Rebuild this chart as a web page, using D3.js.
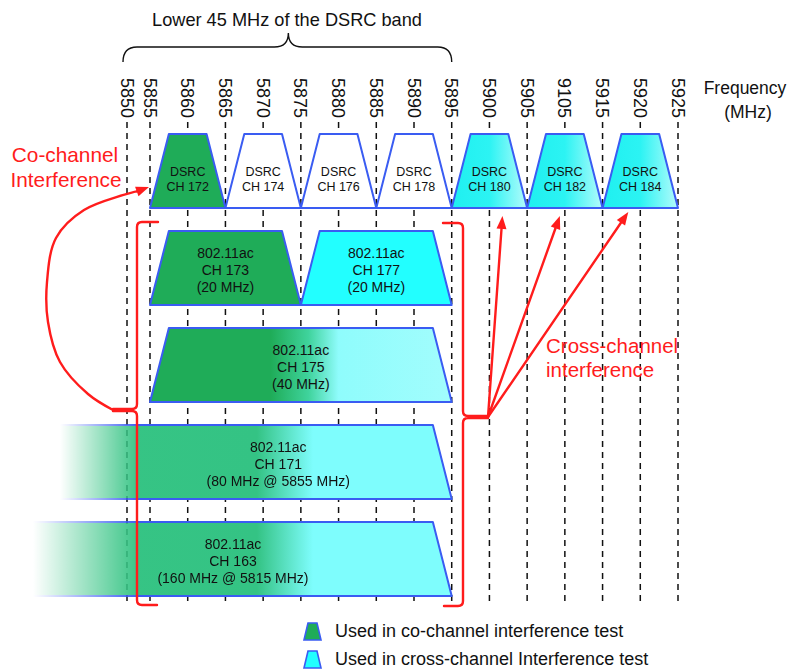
<!DOCTYPE html>
<html><head><meta charset="utf-8">
<script src="https://cdn.jsdelivr.net/npm/d3@7"></script>
<style>
html,body{margin:0;padding:0;background:#fff;}
svg{display:block;font-family:"Liberation Sans",Arial,Helvetica,sans-serif;}
</style></head>
<body><svg id="chart" width="790" height="670"></svg>
<script>
// ---------- data ----------
const tickValues = [5850,5855,5860,5865,5870,5875,5880,5885,5890,5895,5900,5905,5910,5915,5920,5925];
const tickLabels = ["5850","5855","5860","5865","5870","5875","5880","5885","5890","5895","5900","5905","9105","5915","5920","5925"];

const dsrcNames   = ["CH 172","CH 174","CH 176","CH 178","CH 180","CH 182","CH 184"];
const dsrcCenters = [5860,5870,5880,5890,5900,5910,5920];
const dsrcUse     = ["co","none","none","none","cross","cross","cross"];
const dsrcWidth   = 10;

const acNames   = ["CH 173","CH 177","CH 175","CH 171","CH 163"];
const acWidths  = ["(20 MHz)","(20 MHz)","(40 MHz)","(80 MHz @ 5855 MHz)","(160 MHz @ 5815 MHz)"];
const acLow     = [5855,5875,5855,5815,5735];
const acHigh    = [5875,5895,5895,5895,5895];
const acRow     = ["20","20","40","80","160"];
const acLabelAt = [5865,5885,5875,5872,5866];
const acFill    = ["co","cross","mix40","mix80","mix160"];

const rows = ["DSRC","20","40","80","160"];
const crossTargets = [5900,5910,5920];

const legendLabels = ["Used in co-channel interference test","Used in cross-channel Interference test"];
const legendFill   = ["co","cross"];

// ---------- setup ----------
const svg = d3.select("#chart");
const defs = svg.append("defs");
const x = d3.scaleLinear().domain([5850,5855,5925]).range([127,150,678]);
const y = d3.scaleBand().domain(rows).range([134,596]).paddingInner(0.237).paddingOuter(0);
const skirt = 2.5;
const BLUE = "#3a5cf2", RED = "#ff1c1c", GREEN = "#1fac58", CYAN = "#22ffff";

function grad(id, stops, opts){
  const g = defs.append("linearGradient").attr("id", id);
  if (opts) Object.entries(opts).forEach(([k,v]) => g.attr(k,v));
  stops.forEach(s => g.append("stop").attr("offset", s[0]).attr("stop-color", s[1]).attr("stop-opacity", s[2]==null?1:s[2]));
}
const W = 790;
const userX = {gradientUnits:"userSpaceOnUse", x1:0, x2:W, y1:0, y2:0};
grad("dsrcCross", [[0,"#1ff0f0"],[0.5,"#2cf3f3"],[1,"#b4fbfb"]]);
grad("mix40", [[x(5871)/W,GREEN],[x(5876)/W,"#3fd39c"],[x(5880)/W,"#8ffcfc"],[x(5895)/W,"#a2fdfd"]], userX);
function mixWide(id){
  grad(id, [[0,"#38c585"],[257/W,"#34c384"],[313/W,"#7efdfd"],[1,"#7efdfd"]], userX);
}
mixWide("mix80"); mixWide("mix160");
const fillOf = {co:GREEN, cross:CYAN, none:"#fff", dsrcCross:"url(#dsrcCross)", mix40:"url(#mix40)", mix80:"url(#mix80)", mix160:"url(#mix160)"};

// fade masks for wide channels
const fadeStart = {"80":60, "160":33};
Object.entries(fadeStart).forEach(([k,v])=>{
  grad("fade"+k, [[v/W,"#000"],[140/W,"#fff"],[1,"#fff"]], userX);
  defs.append("mask").attr("id","mask"+k).attr("maskUnits","userSpaceOnUse")
    .attr("x",0).attr("y",0).attr("width",W).attr("height",670)
    .append("rect").attr("width",W).attr("height",670).attr("fill","url(#fade"+k+")");
});

// ---------- title & top brace ----------
svg.append("text").attr("x",287).attr("y",26).attr("text-anchor","middle")
  .attr("font-size",18.2).attr("fill","#111").text("Lower 45 MHz of the DSRC band");
const bL = x(5850)-4, bR = x(5895), bM = (bL+bR)/2+1;
svg.append("path").attr("fill","none").attr("stroke","#111").attr("stroke-width",1.4)
  .attr("d",`M${bL},62 Q${bL},47 ${bL+14},47 H${bM-14} Q${bM},47 ${bM},33 Q${bM},47 ${bM+14},47 H${bR-14} Q${bR},47 ${bR},62`);

// ---------- frequency axis labels ----------
svg.append("g").selectAll("text").data(tickValues).join("text")
  .attr("transform", d=>`translate(${x(d)},78) rotate(90)`)
  .attr("dy","0.36em").attr("font-size",18).attr("fill","#111")
  .text((d,i)=>tickLabels[i]);
svg.append("text").attr("x",745).attr("y",94).attr("text-anchor","middle").attr("font-size",17.5).attr("fill","#111").text("Frequency");
svg.append("text").attr("x",748).attr("y",118).attr("text-anchor","middle").attr("font-size",17.5).attr("fill","#111").text("(MHz)");

// ---------- dashed grid ----------
svg.append("g").selectAll("line").data(tickValues).join("line")
  .attr("x1",d=>x(d)).attr("x2",d=>x(d)).attr("y1",122).attr("y2",604)
  .attr("stroke","#111").attr("stroke-width",1.5).attr("stroke-dasharray","6,5");

// ---------- shapes ----------
function trap(lo,hi,row){
  const t = y(row), b = t + y.bandwidth();
  return `M${x(lo)},${b} L${x(lo+skirt)},${t} L${x(hi-skirt)},${t} L${x(hi)},${b} Z`;
}
// DSRC
const dsrc = svg.append("g").selectAll("g").data(dsrcCenters).join("g");
dsrc.append("path")
  .attr("d", d=>trap(d-dsrcWidth/2, d+dsrcWidth/2, "DSRC"))
  .attr("fill",(d,i)=> dsrcUse[i]==="cross" ? fillOf.dsrcCross : fillOf[dsrcUse[i]])
  .attr("stroke",BLUE).attr("stroke-width",2).attr("stroke-linejoin","round");
dsrc.append("text").attr("x",d=>x(d)).attr("y",y("DSRC")+42).attr("text-anchor","middle")
  .attr("font-size",12.5).attr("fill","#111").text("DSRC");
dsrc.append("text").attr("x",d=>x(d)).attr("y",y("DSRC")+57).attr("text-anchor","middle")
  .attr("font-size",12.5).attr("fill","#111").text((d,i)=>dsrcNames[i]);

// 802.11ac
const ac = svg.append("g").selectAll("g").data(acNames).join("g")
  .attr("mask",(d,i)=> fadeStart[acRow[i]] ? `url(#mask${acRow[i]})` : null);
ac.append("path")
  .attr("d",(d,i)=>{
    if (fadeStart[acRow[i]]) {
      const t=y(acRow[i]), b=t+y.bandwidth(), L=-5;
      return `M${L},${b} L${L},${t} L${x(acHigh[i]-skirt)},${t} L${x(acHigh[i])},${b} Z`;
    }
    return trap(acLow[i], acHigh[i], acRow[i]);
  })
  .attr("fill",(d,i)=>fillOf[acFill[i]])
  .attr("stroke",BLUE).attr("stroke-width",2).attr("stroke-linejoin","round");
[["head",27],["name",44],["width",61]].forEach(([kind,off])=>{
  ac.append("text").attr("x",(d,i)=>x(acLabelAt[i])).attr("y",(d,i)=>y(acRow[i])+off)
    .attr("text-anchor","middle").attr("font-size",14).attr("fill","#111")
    .text((d,i)=> kind==="head" ? "802.11ac" : kind==="name" ? d : acWidths[i]);
});

// ---------- red annotations ----------
const red = svg.append("g").attr("fill","none").attr("stroke",RED).attr("stroke-width",2.4).attr("stroke-linecap","round").attr("stroke-linejoin","round");
// left brace
red.append("path").attr("d","M158,222 H142 Q137,222 137,227 V404 Q137,409 132,409 H113 M113,411 H132 Q137,411 137,416 V600 Q137,605 142,605 H157");
// right brace
red.append("path").attr("d","M443,223 H458 Q463,223 463,228 V411 Q463,416 468,416 H488 M488,418 H468 Q463,418 463,423 V601 Q463,606 458,606 H444");

function arrowHead(tip, from){
  const a = Math.atan2(tip[1]-from[1], tip[0]-from[0]), L=13, Wd=5;
  const bx = tip[0]-L*Math.cos(a), by = tip[1]-L*Math.sin(a);
  svg.append("path").attr("fill",RED)
    .attr("d",`M${tip[0]},${tip[1]} L${bx+Wd*Math.sin(a)},${by-Wd*Math.cos(a)} L${bx-Wd*Math.sin(a)},${by+Wd*Math.cos(a)} Z`);
  return [bx,by];
}
// co-channel curve
const coPts = [[113,410],[88,394],[60,362],[48,322],[47,282],[56,238],[84,210],[138,191]];
const coTip = [149,187];
const coBase = arrowHead(coTip, coPts[coPts.length-1]);
red.append("path").attr("d", d3.line().curve(d3.curveCatmullRom)(coPts.concat([coBase])));

// cross-channel arrows
const origin = [488,417];
const tipOffsets = [13,-5,-12];
crossTargets.forEach((f,i)=>{
  const tip = [x(f)+tipOffsets[i], y("DSRC")+y.bandwidth()+8 - (i===2?4:0)];
  const base = arrowHead(tip, origin);
  red.append("line").attr("x1",origin[0]).attr("y1",origin[1]).attr("x2",base[0]).attr("y2",base[1]);
});

// red texts
const rt = svg.append("g").attr("fill",RED).attr("font-size",20.8);
rt.append("text").attr("x",65).attr("y",162).attr("text-anchor","middle").text("Co-channel");
rt.append("text").attr("x",66).attr("y",187).attr("text-anchor","middle").text("Interference");
rt.append("text").attr("x",546).attr("y",353).attr("font-size",20.5).text("Cross-channel");
rt.append("text").attr("x",546).attr("y",377).attr("font-size",20.5).text("interference");

// ---------- legend ----------
const lg = svg.append("g").selectAll("g").data(legendLabels).join("g")
  .attr("transform",(d,i)=>`translate(304,${623+i*28})`);
lg.append("path").attr("d","M0,17 L4,0 L13,0 L17,17 Z")
  .attr("fill",(d,i)=>fillOf[legendFill[i]]).attr("stroke",BLUE).attr("stroke-width",1.6);
lg.append("text").attr("x",31).attr("y",14).attr("font-size",18).attr("fill","#111").text(d=>d);
</script></body></html>
